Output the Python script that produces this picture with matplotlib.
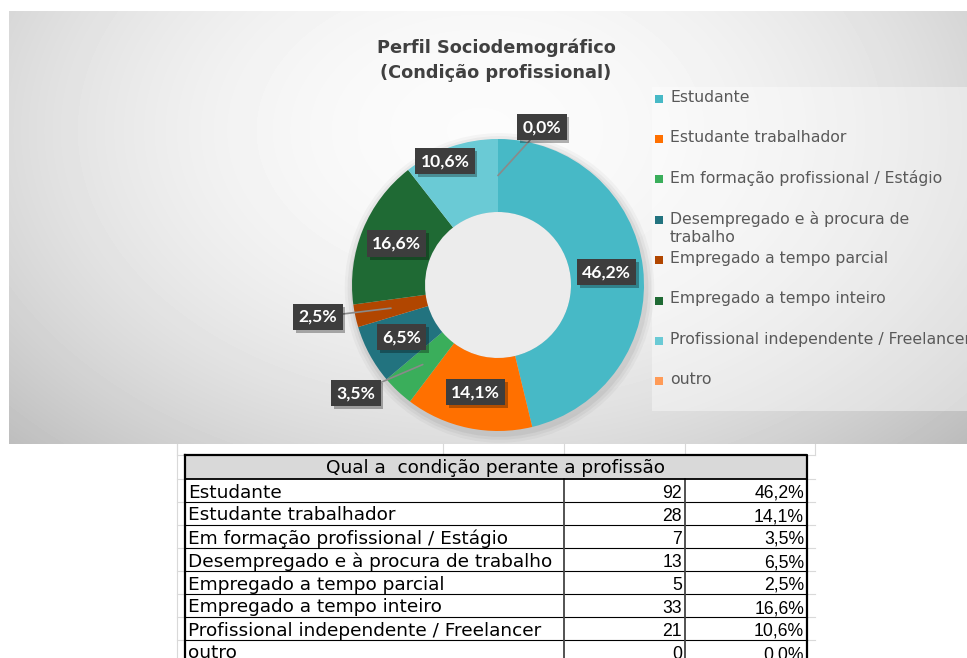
import numpy as np
import matplotlib
matplotlib.use("Agg")
import matplotlib.pyplot as plt
from matplotlib.patches import Rectangle, Circle
import matplotlib.patheffects as pe

# dados
categorias = ["Estudante", "Estudante trabalhador", "Em formação profissional / Estágio",
              "Desempregado e à procura de trabalho", "Empregado a tempo parcial",
              "Empregado a tempo inteiro", "Profissional independente / Freelancer", "outro"]
legenda = ["Estudante", "Estudante trabalhador", "Em formação profissional / Estágio",
           "Desempregado e à procura de\ntrabalho", "Empregado a tempo parcial",
           "Empregado a tempo inteiro", "Profissional independente / Freelancer", "outro"]
contagens = [92, 28, 7, 13, 5, 33, 21, 0]
cores = ["#47b9c6", "#ff7000", "#3aae5b", "#22737f", "#b14600", "#1f6a34", "#6acad5", "#ff9b57"]
titulo = "Perfil Sociodemográfico\n(Condição profissional)"
cabecalho = "Qual a  condição perante a profissão"

total = sum(contagens)
pcts = [100.0 * c / total for c in contagens]
def fmt_pct(p):
    return f"{p:.1f}".replace(".", ",") + "%"

W, H = 967, 658
fig = plt.figure(figsize=(W / 100, H / 100), dpi=100)
fig.patch.set_facecolor("white")

# fundo em coordenadas de pixel
bg = fig.add_axes([0, 0, 1, 1])
yy, xx = np.mgrid[11:444, 9:967]
r2 = ((xx - 480) / 560.0) ** 2 + ((yy - 130) / 380.0) ** 2
grad = np.clip(0.985 - 0.175 * r2, 0, 1)
bg.imshow(grad, cmap="gray", vmin=0, vmax=1, extent=(9, 967, 444, 11),
          aspect="auto", interpolation="bilinear", zorder=0)
bg.add_patch(Rectangle((652, 87), 315, 324, facecolor="white", alpha=0.4,
                       edgecolor="none", zorder=1))
bg.set_xlim(0, W); bg.set_ylim(H, 0); bg.axis("off")

bg.text(496, 60, titulo, ha="center", va="center", fontsize=12.8, fontweight="bold",
        color="#404040", linespacing=1.5, zorder=3)

# legenda
for i, (lab, cor) in enumerate(zip(legenda, cores)):
    yc = 98.5 + 40.4 * i
    bg.add_patch(Rectangle((655, yc - 4), 8, 8, facecolor=cor, edgecolor="none", zorder=3))
    bg.text(670, yc - 9, lab, ha="left", va="top", fontsize=11.3, color="#595959",
            linespacing=1.3, zorder=3)

# donut
cx, cy, R, k = 498, 285, 146, 1.6
ax = fig.add_axes([(cx - k * R) / W, (H - cy - k * R) / H, 2 * k * R / W, 2 * k * R / H])
ax.patch.set_alpha(0)
# sombra suave à volta do anel
for s, a in [(1.06, 0.03), (1.04, 0.04), (1.02, 0.05)]:
    ax.add_patch(Circle((0.01, -0.02), s, facecolor="black", alpha=a, edgecolor="none", zorder=0))
wedges, _ = ax.pie(contagens, colors=cores, startangle=90, counterclock=False, radius=1,
                   wedgeprops=dict(width=0.5, edgecolor="none", zorder=2))
ax.add_patch(Circle((0, 0), 0.5, facecolor="#ececec", edgecolor="none", zorder=1.5))
ax.set_xlim(-k, k); ax.set_ylim(-k, k); ax.axis("off")

# posições de rótulos deslocados (com linha de chamada)
desloc = {2: (-0.973, -0.740), 4: (-1.233, -0.219), 7: (0.301, 1.082)}
fora = {6: (-0.363, 0.849)}
for i, w in enumerate(wedges):
    ang = np.deg2rad((w.theta1 + w.theta2) / 2)
    mx, my = 0.75 * np.cos(ang), 0.75 * np.sin(ang)
    kw = dict(ha="center", va="center", fontsize=12.6, fontweight="bold", family="Lato",
              color="white", bbox=dict(boxstyle="square,pad=0.3", fc="#3d3d3d", ec="none"),
              zorder=5)
    if i in desloc:
        t = ax.annotate(fmt_pct(pcts[i]), xy=(mx, my), xytext=desloc[i],
                        arrowprops=dict(arrowstyle="-", color="#8a8a8a", lw=1.2,
                                        shrinkA=0, shrinkB=0), **kw)
    else:
        pos = fora.get(i, (mx, my))
        t = ax.text(pos[0], pos[1], fmt_pct(pcts[i]), **kw)
    t.get_bbox_patch().set_path_effects([
        pe.SimplePatchShadow(offset=(2, -2), shadow_rgbFace="black", alpha=0.3), pe.Normal()])

# tabela
x0, x1, x2, x3 = 185, 564, 685, 807
top, hh, rh = 455, 24, 23
grid = "#d9d9d9"
for gx in [177, 443, 564, 685, 815]:
    bg.plot([gx, gx], [444, top], color=grid, lw=0.8, zorder=2)
bg.plot([177, 177], [444, H], color=grid, lw=0.8, zorder=2)
for j in range(len(categorias) + 2):
    gy = top + (hh + rh * (j - 1) if j > 0 else 0)
    bg.plot([177, x0], [gy, gy], color=grid, lw=0.8, zorder=2)
    bg.plot([x3, 815], [gy, gy], color=grid, lw=0.8, zorder=2)

bg.add_patch(Rectangle((x0, top), x3 - x0, hh, facecolor="#d9d9d9", edgecolor="none", zorder=2))
bg.text((x0 + x3) / 2, top + hh / 2 + 1, cabecalho, ha="center", va="center",
        fontsize=13.3, color="black", zorder=4)
for i, (cat, c, p) in enumerate(zip(categorias, contagens, pcts)):
    yt = top + hh + rh * i
    yc = yt + rh / 2 + 2
    bg.text(x0 + 3, yc, cat, ha="left", va="center", fontsize=13.3, color="black", zorder=4)
    bg.text(x2 - 3, yc + 1, str(c), ha="right", va="center", fontsize=12.7,
            family="Liberation Sans", color="black", zorder=4)
    bg.text(x3 - 3, yc + 1, fmt_pct(p), ha="right", va="center", fontsize=12.7,
            family="Liberation Sans", color="black", zorder=4)
    bg.plot([x0, x3], [yt + rh, yt + rh], color="black", lw=0.8, zorder=3)
for vx in [x1, x2]:
    bg.plot([vx, vx], [top + hh, H], color="#444444", lw=1.3, zorder=3)
bg.plot([x0, x3, x3], [top, top, H], color="black", lw=1.6, zorder=3)
bg.plot([x0, x0], [top, H], color="black", lw=1.6, zorder=3)
bg.plot([x0, x3], [top + hh, top + hh], color="black", lw=1.3, zorder=3)

fig.savefig("out.png", dpi=100)
